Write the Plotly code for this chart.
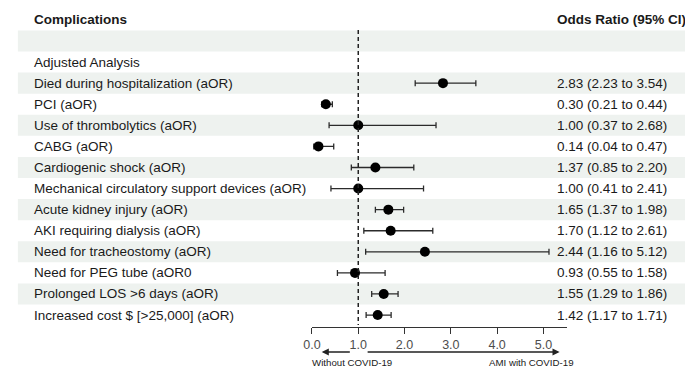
import plotly.graph_objects as go

# ---------------- data ----------------
labels = [
    "Died during hospitalization (aOR)",
    "PCI (aOR)",
    "Use of thrombolytics (aOR)",
    "CABG (aOR)",
    "Cardiogenic shock (aOR)",
    "Mechanical circulatory support devices (aOR)",
    "Acute kidney injury (aOR)",
    "AKI requiring dialysis (aOR)",
    "Need for tracheostomy (aOR)",
    "Need for PEG tube (aOR0",
    "Prolonged LOS >6 days (aOR)",
    "Increased cost $ [>25,000] (aOR)",
]
odds = [2.83, 0.30, 1.00, 0.14, 1.37, 1.00, 1.65, 1.70, 2.44, 0.93, 1.55, 1.42]
ci_low = [2.23, 0.21, 0.37, 0.04, 0.85, 0.41, 1.37, 1.12, 1.16, 0.55, 1.29, 1.17]
ci_high = [3.54, 0.44, 2.68, 0.47, 2.20, 2.41, 1.98, 2.61, 5.12, 1.58, 1.86, 1.71]
tick_vals = [0, 1, 2, 3, 4, 5]
tick_text = ["0.0", "1.0", "2.0", "3.0", "4.0", "5.0"]
section_label = "Adjusted Analysis"
header_left = "Complications"
header_right = "Odds Ratio (95% CI)"
arrow_left_label = "Without COVID-19"
arrow_right_label = "AMI with COVID-19"

W, H = 685, 369
FONT = "Liberation Sans, Arial, Helvetica, sans-serif"
FS = 13.5
TXT = "#1a1a1a"
STRIPE = "#eef2ef"

row_y = [i + 2 for i in range(len(labels))]  # rows 0: empty, 1: section label
ci_text = [f"{o:.2f} ({l:.2f} to {h:.2f})" for o, l, h in zip(odds, ci_low, ci_high)]

fig = go.Figure()
fig.add_trace(go.Scatter(
    x=odds, y=row_y, mode="markers",
    marker=dict(color="black", size=10),
    error_x=dict(type="data", symmetric=False,
                 array=[h - o for o, h in zip(odds, ci_high)],
                 arrayminus=[o - l for o, l in zip(odds, ci_low)],
                 color="#2b2b2b", thickness=1.3, width=3),
    hoverinfo="skip", showlegend=False,
))

shapes = []
for i in range(0, len(labels) + 2, 2):
    shapes.append(dict(type="rect", xref="paper", yref="y",
                       x0=9 / W, x1=1, y0=i - 0.5, y1=i + 0.5,
                       fillcolor=STRIPE, line=dict(width=0), layer="below"))
shapes.append(dict(type="line", xref="x", yref="y", x0=1, x1=1,
                   y0=-0.52, y1=13.47,
                   line=dict(color="#222", width=1.5, dash="4px,3px")))
fig.update_layout(shapes=shapes)

annotations = []
def txt(x, y, s, bold=False, xref="paper", yref="y", size=FS, xanchor="left"):
    return dict(xref=xref, yref=yref, x=x, y=y,
                text=f"<b>{s}</b>" if bold else s,
                xanchor=xanchor, yanchor="middle", showarrow=False,
                borderpad=0, font=dict(size=size, color=TXT, family=FONT))

annotations.append(txt(24 / W, -1, header_left, bold=True))
annotations.append(txt(554 / W, -1, header_right, bold=True))
annotations.append(txt(24 / W, 1, section_label))
for lab, yy, ct in zip(labels, row_y, ci_text):
    annotations.append(txt(24 / W, yy, lab))
    annotations.append(txt(554 / W, yy, ct))

arrow_y = (H - 352) / H
annotations.append(dict(xref="x", yref="paper", x=0.21, y=arrow_y,
                        axref="x", ayref="pixel", ax=0.85, ay=0, text="",
                        showarrow=True, arrowhead=2, arrowsize=1.1, arrowwidth=1.3,
                        arrowcolor="#222"))
annotations.append(dict(xref="x", yref="paper", x=5.35, y=arrow_y,
                        axref="x", ayref="pixel", ax=1.17, ay=0, text="",
                        showarrow=True, arrowhead=2, arrowsize=1.1, arrowwidth=1.3,
                        arrowcolor="#222"))
label_y = (H - 362) / H
annotations.append(txt(0.87, label_y, arrow_left_label, xref="x", yref="paper", size=9.7, xanchor="center"))
annotations.append(txt(4.75, label_y, arrow_right_label, xref="x", yref="paper", size=9.7, xanchor="center"))

fig.update_layout(
    width=W, height=H,
    margin=dict(l=0, r=0, t=0, b=0),
    paper_bgcolor="white", plot_bgcolor="rgba(0,0,0,0)",
    font=dict(family=FONT, size=FS, color=TXT),
    annotations=annotations,
    hovermode=False,
    xaxis=dict(domain=[307 / W, 565 / W], range=[0, 5.5],
               showline=True, linecolor="#333", linewidth=1,
               ticks="outside", ticklen=6, tickcolor="#333", tickwidth=1,
               tickvals=tick_vals, ticktext=tick_text,
               tickfont=dict(size=12.5, color="#4d4d4d", family=FONT),
               showgrid=False, zeroline=False, fixedrange=True),
    yaxis=dict(domain=[(H - 327) / H, 1], range=[13.567, -1.945],
               visible=False, showgrid=False, zeroline=False, fixedrange=True),
)

fig.write_html("out.html", config={"displayModeBar": False},
               post_script="document.body.style.margin='0';document.body.style.overflow='hidden';")
